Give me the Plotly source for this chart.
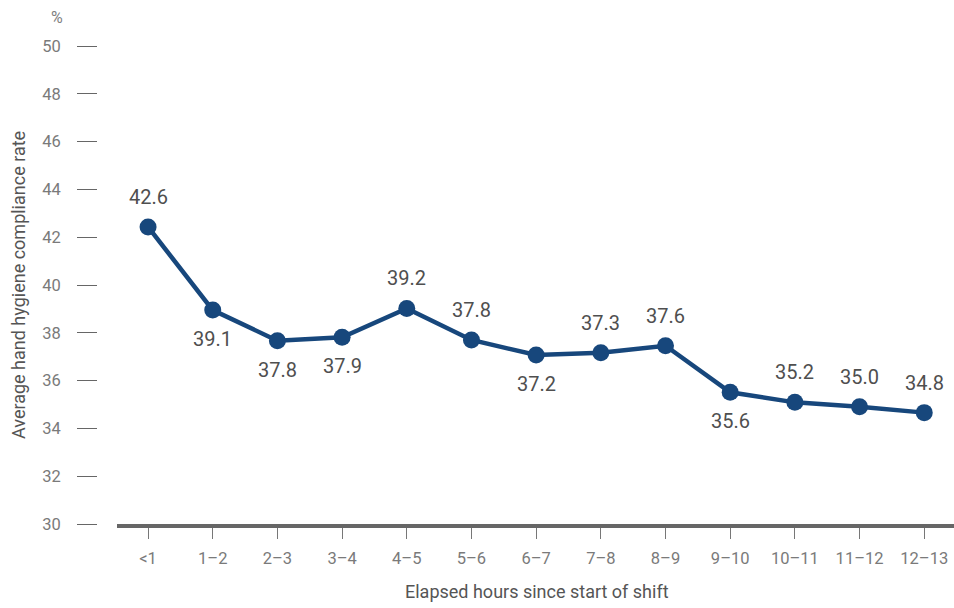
import plotly.graph_objects as go

categories = ["<1", "1–2", "2–3", "3–4", "4–5", "5–6", "6–7", "7–8", "8–9", "9–10", "10–11", "11–12", "12–13"]
values = [42.43, 38.95, 37.67, 37.81, 39.02, 37.70, 37.07, 37.17, 37.46, 35.51, 35.09, 34.91, 34.66]
labels = ["42.6", "39.1", "37.8", "37.9", "39.2", "37.8", "37.2", "37.3", "37.6", "35.6", "35.2", "35.0", "34.8"]
label_side = ["up", "down", "down", "down", "up", "up", "down", "up", "up", "down", "up", "up", "up"]
y_ticks = [30, 32, 34, 36, 38, 40, 42, 44, 46, 48, 50]

W, H = 954, 608
FONT = "Roboto"
line_color = "#17477c"
PLOT_H = 478
BOTTOM = 84

fig = go.Figure()
fig.add_trace(go.Scatter(
    x=categories, y=values, mode="lines+markers",
    line=dict(color=line_color, width=4.5),
    marker=dict(color=line_color, size=17),
    hoverinfo="skip", showlegend=False, cliponaxis=False,
))

annotations = []
for c, v, t, s in zip(categories, values, labels, label_side):
    annotations.append(dict(
        x=c, y=v, xref="x", yref="y", text=t, showarrow=False,
        yshift=30 if s == "up" else -29,
        font=dict(family=FONT, size=20, color="#4f4f4f"),
    ))

annotations.append(dict(
    x=18 / W, y=0.5, xref="paper", yref="paper", text="Average hand hygiene compliance rate",
    textangle=-90, showarrow=False, xanchor="center", yanchor="middle",
    font=dict(family=FONT, size=18, color="#555555"),
))
annotations.append(dict(
    x=57 / W, y=(H - 18 - BOTTOM) / PLOT_H, xref="paper", yref="paper", text="%", showarrow=False,
    xanchor="center", yanchor="middle",
    font=dict(family=FONT, size=16, color="#808080"),
))
annotations.append(dict(
    x=537 / W, y=(H - 591 - BOTTOM) / PLOT_H, xref="paper", yref="paper",
    text="Elapsed hours since start of shift", showarrow=False,
    xanchor="center", yanchor="middle",
    font=dict(family=FONT, size=18, color="#555555"),
))

fig.update_layout(
    width=W, height=H,
    margin=dict(l=0, r=0, t=46, b=BOTTOM),
    paper_bgcolor="white", plot_bgcolor="white",
    annotations=annotations,
    xaxis=dict(
        domain=[117 / W, 1],
        type="category",
        range=[-0.48, 12.46],
        showgrid=False, zeroline=False,
        showline=True, linecolor="#666666", linewidth=4,
        ticks="outside", ticklen=11, tickwidth=1.2, tickcolor="#777777",
        tickfont=dict(family=FONT, size=16.5, color="#7a7a7a"),
        ticklabelstandoff=5,
    ),
    yaxis=dict(
        range=[30, 50],
        tickvals=y_ticks,
        anchor="free", position=97 / W,
        showgrid=False, zeroline=False, showline=False,
        ticks="outside", ticklen=20, tickwidth=1.3, tickcolor="#666666",
        tickfont=dict(family=FONT, size=16.5, color="#7a7a7a"),
        ticklabelstandoff=13,
    ),
)

fig.write_html("out.html")
